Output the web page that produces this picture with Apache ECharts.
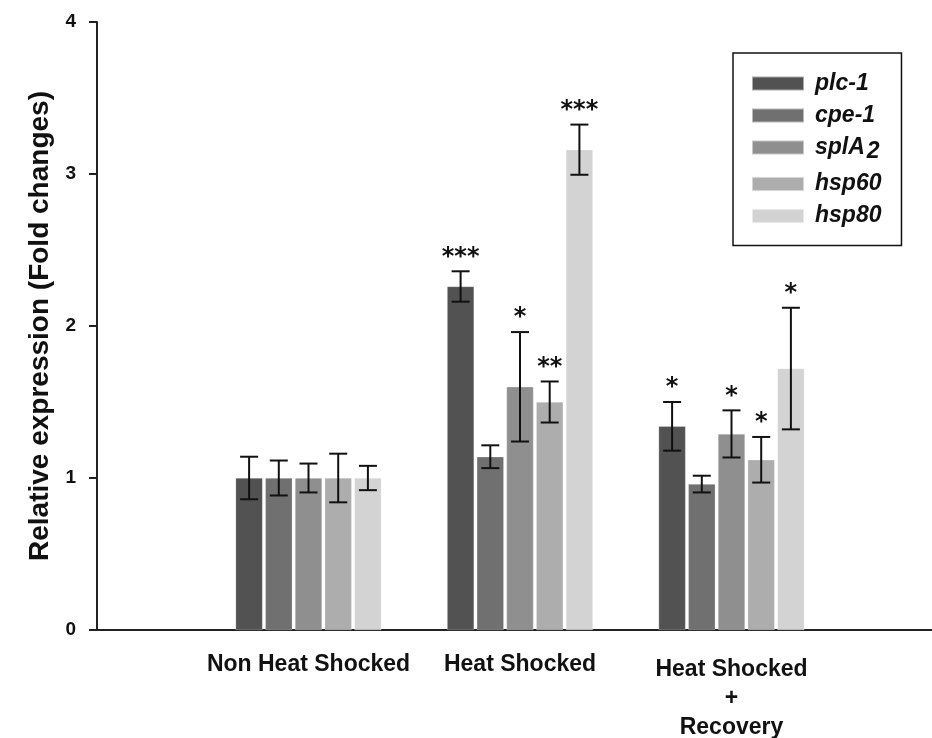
<!DOCTYPE html>
<html>
<head>
<meta charset="utf-8">
<script src="https://cdn.jsdelivr.net/npm/echarts@6/dist/echarts.min.js"></script>
<style>
html,body{margin:0;padding:0;background:#fff;}
#chart{width:932px;height:738px;}
</style>
</head>
<body>
<div id="chart"></div>
<script>
// ---- data ----
var categories = ['', 'Non Heat Shocked', 'Heat Shocked', 'Heat Shocked\n+\nRecovery', ''];
var genes = ['plc-1', 'cpe-1', 'splA2', 'hsp60', 'hsp80'];
var plc1 = [1.00, 2.26, 1.34];
var cpe1 = [1.00, 1.14, 0.96];
var splA2 = [1.00, 1.60, 1.29];
var hsp60 = [1.00, 1.50, 1.12];
var hsp80 = [1.00, 3.16, 1.72];
var plc1Err = [0.14, 0.10, 0.16];
var cpe1Err = [0.115, 0.075, 0.055];
var splA2Err = [0.095, 0.36, 0.155];
var hsp60Err = [0.16, 0.135, 0.15];
var hsp80Err = [0.08, 0.165, 0.40];
var plc1Sig = ['', '***', '*'];
var cpe1Sig = ['', '', ''];
var splA2Sig = ['', '*', '*'];
var hsp60Sig = ['', '**', '*'];
var hsp80Sig = ['', '***', '*'];
var yTicks = [0, 1, 2, 3, 4];

// ---- styling ----
var colors = ['#525252', '#707070', '#8f8f8f', '#adadad', '#d3d3d3'];
var BAR_W = 27, GAP = 2.7, CAP = 9;
var FONT = 'Liberation Sans, Arial, sans-serif';

var values = [plc1, cpe1, splA2, hsp60, hsp80];
var errs = [plc1Err, cpe1Err, splA2Err, hsp60Err, hsp80Err];
var sigs = [plc1Sig, cpe1Sig, splA2Sig, hsp60Sig, hsp80Sig];

var series = [];
genes.forEach(function (g, gi) {
  var d = ['-'].concat(values[gi]).concat(['-']);
  series.push({
    name: g, type: 'bar', data: d,
    barWidth: BAR_W, barGap: (GAP / BAR_W * 100) + '%',
    itemStyle: { color: colors[gi], borderColor: 'rgba(255,255,255,0.5)', borderWidth: 0.5 },
    emphasis: { disabled: true }, silent: true
  });
});
genes.forEach(function (g, gi) {
  var d = values[gi].map(function (v, i) { return [i + 1, v, errs[gi][i]]; });
  series.push({
    type: 'custom', silent: true, z: 10,
    data: d,
    renderItem: (function (gi) {
      return function (params, api) {
        var x = api.value(0), v = api.value(1), e = api.value(2);
        var top = api.coord([x, v + e]);
        var bot = api.coord([x, v - e]);
        var cx = top[0] + (gi - 2) * (BAR_W + GAP);
        var sig = sigs[gi][x - 1];
        var ls = { stroke: '#111', lineWidth: 2 };
        var children = [
          { type: 'line', shape: { x1: cx, y1: top[1], x2: cx, y2: bot[1] }, style: ls },
          { type: 'line', shape: { x1: cx - CAP, y1: top[1], x2: cx + CAP, y2: top[1] }, style: ls },
          { type: 'line', shape: { x1: cx - CAP, y1: bot[1], x2: cx + CAP, y2: bot[1] }, style: ls }
        ];
        if (sig) {
          children.push({
            type: 'text',
            style: { text: sig, x: cx, y: top[1] - 2, align: 'center', verticalAlign: 'bottom',
              fill: '#111', font: 'bold 24px DejaVu Sans, sans-serif' }
          });
        }
        return { type: 'group', children: children };
      };
    })(gi)
  });
});

var xData = categories.map(function (c, i) {
  if (i === 3) return { value: c, textStyle: { padding: [5, 0, 0, 0] } };
  return c;
});

var chart = echarts.init(document.getElementById('chart'), null, { renderer: 'canvas' });
chart.setOption({
  backgroundColor: '#fff',
  animation: false,
  grid: { left: 97, right: -11, top: 22, bottom: 108, containLabel: false, outerBoundsMode: 'none' },
  legend: {
    data: genes, orient: 'vertical', left: 733, top: 53,
    icon: 'rect', itemWidth: 52, itemHeight: 14, itemGap: 9,
    padding: [19, 20, 18, 18],
    borderColor: '#111', borderWidth: 1.5,
    selectedMode: false,
    formatter: function (n) {
      if (n === 'splA2') return '{n|splA}{s|2}';
      return '{n|' + n + '}';
    },
    textStyle: {
      fontFamily: FONT, fontSize: 23, fontWeight: 'bold', fontStyle: 'italic', color: '#111',
      rich: {
        n: { fontFamily: FONT, fontSize: 23, fontWeight: 'bold', fontStyle: 'italic', color: '#111', padding: [0, 0, 0, 6] },
        s: { fontFamily: FONT, fontSize: 23, fontWeight: 'bold', color: '#111', padding: [9, 0, 0, 2], verticalAlign: 'top' }
      }
    }
  },
  xAxis: {
    type: 'category', data: xData, boundaryGap: false,
    axisLine: { lineStyle: { color: '#222', width: 2 } },
    axisTick: { show: false },
    axisLabel: {
      interval: 0, margin: 20, color: '#111', fontFamily: FONT, fontSize: 23, fontWeight: 'bold',
      lineHeight: 29
    },
    splitLine: { show: false }
  },
  yAxis: {
    type: 'value', min: yTicks[0], max: yTicks[yTicks.length - 1], interval: 1,
    name: 'Relative expression (Fold changes)', nameLocation: 'middle', nameGap: 40,
    nameTextStyle: { fontFamily: FONT, fontSize: 28, fontWeight: 'bold', color: '#111' },
    axisLine: { show: true, lineStyle: { color: '#222', width: 2 } },
    axisTick: { show: true, length: 8, lineStyle: { color: '#222', width: 2 } },
    axisLabel: { margin: 21, color: '#111', fontFamily: FONT, fontSize: 19, fontWeight: 'bold' },
    splitLine: { show: false }
  },
  series: series
});
</script>
</body>
</html>
